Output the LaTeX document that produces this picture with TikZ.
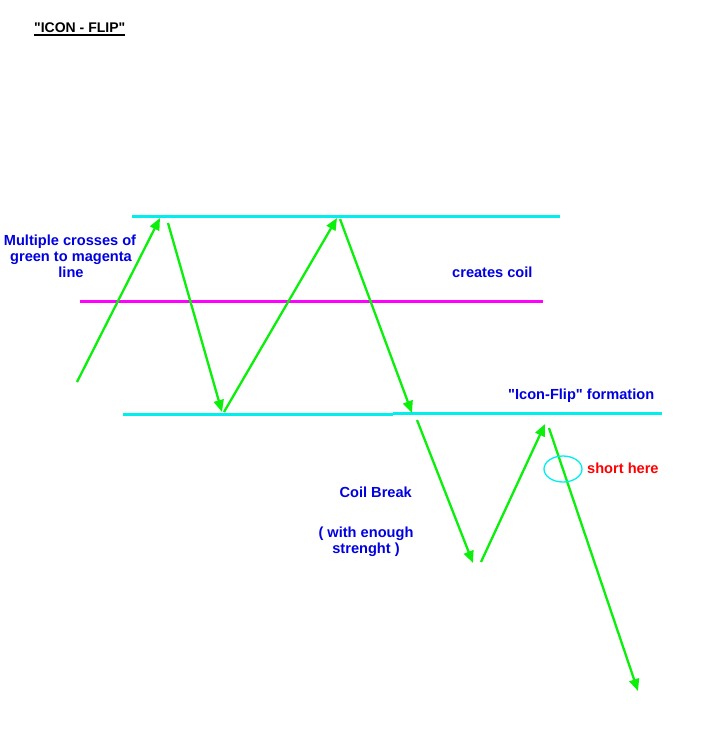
\documentclass[tikz,border=0pt]{standalone}
\usepackage{fontspec}
\setmainfont{Liberation Sans}[Ligatures=TeXOff]
\usetikzlibrary{arrows.meta,shapes.geometric}
\definecolor{lvlcyan}{RGB}{0,238,238}
\definecolor{lvlmag}{RGB}{255,0,255}
\definecolor{arrgreen}{RGB}{10,240,10}
\definecolor{txtblue}{RGB}{0,0,225}
\definecolor{txtred}{RGB}{255,0,0}
\tikzset{
  lvl/.style={line width=3pt},
  cyanlvl/.style={lvl, draw=lvlcyan},
  maglvl/.style={lvl, draw=lvlmag},
  swing/.style={draw=arrgreen, line width=2.3pt, -{Triangle[length=12pt,width=10pt]}},
  lbl/.style={font=\fontsize{14.6}{16}\selectfont\bfseries, inner sep=0pt, anchor=base},
  bluelbl/.style={lbl, text=txtblue},
}
\begin{document}
\begin{tikzpicture}[x=1pt,y=-1pt]
\useasboundingbox (0,0) rectangle (713,750);
% title
\node[lbl, anchor=base west, font=\fontsize{14}{16}\selectfont\bfseries] (title) at (34,32) {"ICON - FLIP"};
\draw[line width=1.2pt] (title.south west |- 0,35) -- (title.south east |- 0,35);
% levels
\coordinate (t1) at (132,216); \coordinate (t2) at (560,216);
\coordinate (m1) at (80,301);  \coordinate (m2) at (543,301);
\coordinate (b1) at (123,414.5); \coordinate (b2) at (393,414.5);
\coordinate (b3) at (393,413.5); \coordinate (b4) at (662,413.5);
\draw[cyanlvl] (t1) -- (t2);
\draw[maglvl] (m1) -- (m2);
\draw[cyanlvl] (b1) -- (b2);
\draw[cyanlvl] (b3) -- (b4);
% swing points
\coordinate (s1a) at (77,382);  \coordinate (s1b) at (160,218);
\coordinate (s2a) at (168,223); \coordinate (s2b) at (222,412);
\coordinate (s3a) at (224,412); \coordinate (s3b) at (337,218);
\coordinate (s4a) at (340,219); \coordinate (s4b) at (412,413);
\coordinate (s5a) at (417,420); \coordinate (s5b) at (473,563);
\coordinate (s6a) at (481,562); \coordinate (s6b) at (545,424);
\coordinate (s7a) at (549,428); \coordinate (s7b) at (638,691);
\draw[swing] (s1a) -- (s1b);
\draw[swing] (s2a) -- (s2b);
\draw[swing] (s3a) -- (s3b);
\draw[swing] (s4a) -- (s4b);
\draw[swing] (s5a) -- (s5b);
\draw[swing] (s6a) -- (s6b);
\draw[swing] (s7a) -- (s7b);
% short here marker
\node[draw=lvlcyan, line width=1.3pt, ellipse, minimum width=38pt, minimum height=26pt, inner sep=0pt] (mark) at (563,469) {};
% labels
\node[bluelbl] (mc1) at (70,245) {Multiple crosses of};
\node[bluelbl] (mc2) at (71,261) {green to magenta};
\node[bluelbl] (mc3) at (71,277) {line};
\node[bluelbl, anchor=base west] (cc) at (452,277) {creates coil};
\node[bluelbl, anchor=base west] (ifl) at (508,399) {"Icon-Flip" formation};
\node[lbl, text=txtred, anchor=base west] (sh) at (587,473) {short here};
\node[bluelbl, anchor=base east] (cb) at (412,497) {Coil Break};
\node[bluelbl] (we1) at (366,537) {( with enough};
\node[bluelbl] (we2) at (366,553) {strenght )};
\end{tikzpicture}
\end{document}
